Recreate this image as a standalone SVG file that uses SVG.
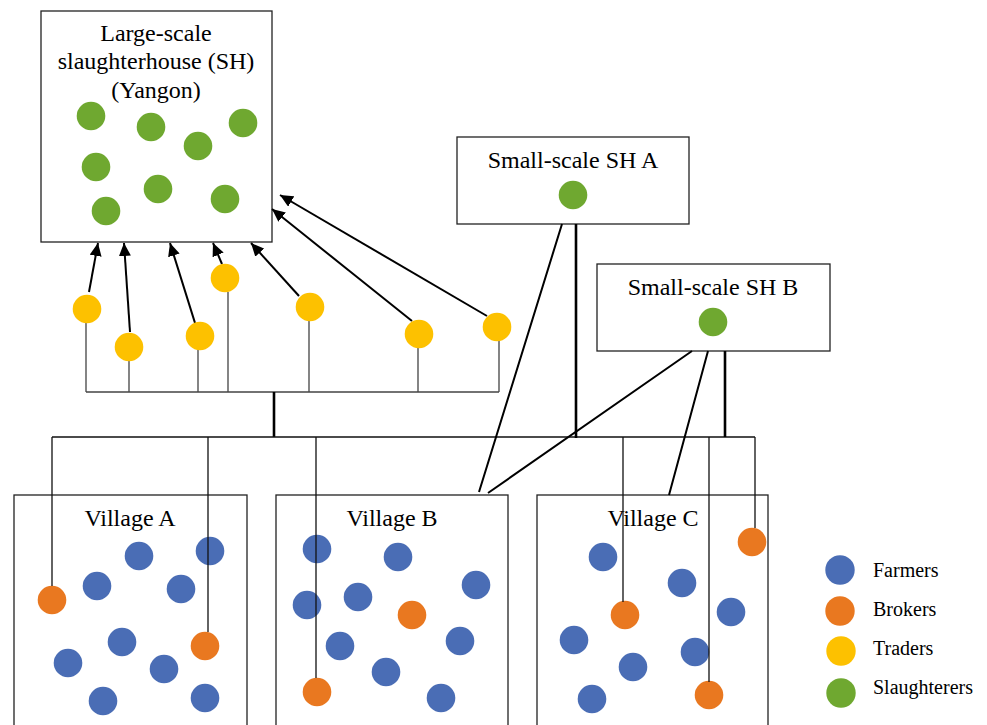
<svg xmlns="http://www.w3.org/2000/svg" width="987" height="725" viewBox="0 0 987 725">
<style>
text{font-family:"Liberation Serif","Times New Roman",serif;fill:#000}
.t{font-size:24px;text-anchor:middle}
.lg{font-size:20px}
.box{fill:#fff;stroke:#222;stroke-width:1.3}
.far{fill:#4a6db5}
.bro{fill:#e97820}
.tra{fill:#fdc100}
.sla{fill:#6fa830}
.thin{stroke:#111;stroke-width:1.3;fill:none}
.gray{stroke:#444;stroke-width:1.3;fill:none}
.thick{stroke:#000;stroke-width:2.6;fill:none}
.arr{stroke:#000;stroke-width:2;fill:none;marker-end:url(#ah)}
.diag{stroke:#000;stroke-width:2;fill:none}
</style>
<defs>
<marker id="ah" markerUnits="userSpaceOnUse" markerWidth="14" markerHeight="12" refX="13" refY="6" orient="auto">
<path d="M0,0 L13,6 L0,12 Z" fill="#000"/>
</marker>
</defs>
<rect width="987" height="725" fill="#fff"/>

<g id="villageA">
<rect class="box" x="14" y="495" width="233" height="245"/>
<text class="t" x="130" y="526">Village A</text>
<circle class="far" cx="139" cy="556" r="14.3"/>
<circle class="far" cx="210" cy="551" r="14.3"/>
<circle class="far" cx="97" cy="586" r="14.3"/>
<circle class="far" cx="181" cy="589" r="14.3"/>
<circle class="far" cx="122" cy="642" r="14.3"/>
<circle class="far" cx="68" cy="663" r="14.3"/>
<circle class="far" cx="164" cy="669" r="14.3"/>
<circle class="far" cx="103" cy="701" r="14.3"/>
<circle class="far" cx="205" cy="698" r="14.3"/>
<circle class="bro" cx="52" cy="600" r="14.3"/>
<circle class="bro" cx="205" cy="646" r="14.3"/>
</g>

<g id="villageB">
<rect class="box" x="276" y="495" width="232" height="245"/>
<text class="t" x="392" y="526">Village B</text>
<circle class="far" cx="317" cy="549" r="14.3"/>
<circle class="far" cx="398" cy="557" r="14.3"/>
<circle class="far" cx="476" cy="585" r="14.3"/>
<circle class="far" cx="307" cy="605" r="14.3"/>
<circle class="far" cx="358" cy="597" r="14.3"/>
<circle class="far" cx="340" cy="646" r="14.3"/>
<circle class="far" cx="460" cy="641" r="14.3"/>
<circle class="far" cx="386" cy="672" r="14.3"/>
<circle class="far" cx="441" cy="698" r="14.3"/>
<circle class="bro" cx="412" cy="615" r="14.3"/>
<circle class="bro" cx="317" cy="692" r="14.3"/>
</g>

<g id="villageC">
<rect class="box" x="537" y="495" width="231" height="245"/>
<text class="t" x="653" y="526">Village C</text>
<circle class="far" cx="603" cy="557" r="14.3"/>
<circle class="far" cx="682" cy="583" r="14.3"/>
<circle class="far" cx="731" cy="612" r="14.3"/>
<circle class="far" cx="574" cy="640" r="14.3"/>
<circle class="far" cx="633" cy="667" r="14.3"/>
<circle class="far" cx="695" cy="652" r="14.3"/>
<circle class="far" cx="592" cy="699" r="14.3"/>
<circle class="bro" cx="752" cy="542" r="14.3"/>
<circle class="bro" cx="625" cy="615" r="14.3"/>
<circle class="bro" cx="709" cy="695" r="14.3"/>
</g>

<g id="largeSH">
<rect class="box" x="41" y="11" width="231" height="231"/>
<text class="t" x="156" y="41">Large-scale</text>
<text class="t" x="156" y="69">slaughterhouse (SH)</text>
<text class="t" x="156" y="98">(Yangon)</text>
<circle class="sla" cx="91" cy="116" r="14.3"/>
<circle class="sla" cx="151" cy="127" r="14.3"/>
<circle class="sla" cx="198" cy="146" r="14.3"/>
<circle class="sla" cx="243" cy="123" r="14.3"/>
<circle class="sla" cx="96" cy="167" r="14.3"/>
<circle class="sla" cx="158" cy="189" r="14.3"/>
<circle class="sla" cx="106" cy="211" r="14.3"/>
<circle class="sla" cx="225" cy="199" r="14.3"/>
</g>

<g id="smallSHA">
<rect class="box" x="457" y="137" width="232" height="87"/>
<text class="t" x="573" y="168">Small-scale SH A</text>
<circle class="sla" cx="573" cy="195" r="14.3"/>
</g>

<g id="smallSHB">
<rect class="box" x="597" y="264" width="233" height="87"/>
<text class="t" x="713" y="295">Small-scale SH B</text>
<circle class="sla" cx="713" cy="322" r="14.3"/>
</g>

<g id="connectors">
<path class="gray" d="M86,323 V392 M129,361 V392 M198,350 V392 M228,292 V392 M309,321 V392 M418,348 V392 M499,341 V392 M86,392 H499"/>
<path class="thick" d="M274,392 V437"/>
<path class="thin" d="M52,437 H755 M52,437 V586 M208,437 V632 M316,437 V678 M623,437 V602 M709,437 V682 M755,437 V528"/>
<path class="thick" d="M576,224 V438 M725,351 V437"/>
<path class="diag" d="M562,224 L479,492 M692,351 L488,493 M708,351 L669,495"/>
<line class="arr" x1="89" y1="292" x2="98" y2="243"/>
<line class="arr" x1="130" y1="332" x2="124" y2="243"/>
<line class="arr" x1="195" y1="323" x2="170" y2="243"/>
<line class="arr" x1="222" y1="264" x2="213" y2="243"/>
<line class="arr" x1="299" y1="296" x2="251" y2="243"/>
<line class="arr" x1="412" y1="321" x2="272" y2="209"/>
<line class="arr" x1="487" y1="316" x2="280" y2="195"/>
</g>

<g id="traders">
<circle class="tra" cx="87" cy="309" r="14.3"/>
<circle class="tra" cx="129" cy="347" r="14.3"/>
<circle class="tra" cx="200" cy="336" r="14.3"/>
<circle class="tra" cx="225" cy="278" r="14.3"/>
<circle class="tra" cx="310" cy="307" r="14.3"/>
<circle class="tra" cx="419" cy="334" r="14.3"/>
<circle class="tra" cx="497" cy="327" r="14.3"/>
</g>

<g id="legend">
<circle class="far" cx="840" cy="570" r="14.7"/>
<circle class="bro" cx="840" cy="611" r="14.7"/>
<circle class="tra" cx="841" cy="651" r="14.7"/>
<circle class="sla" cx="841" cy="693" r="14.7"/>
<text class="lg" x="873" y="577">Farmers</text>
<text class="lg" x="873" y="616">Brokers</text>
<text class="lg" x="873" y="655">Traders</text>
<text class="lg" x="873" y="694">Slaughterers</text>
</g>
</svg>
